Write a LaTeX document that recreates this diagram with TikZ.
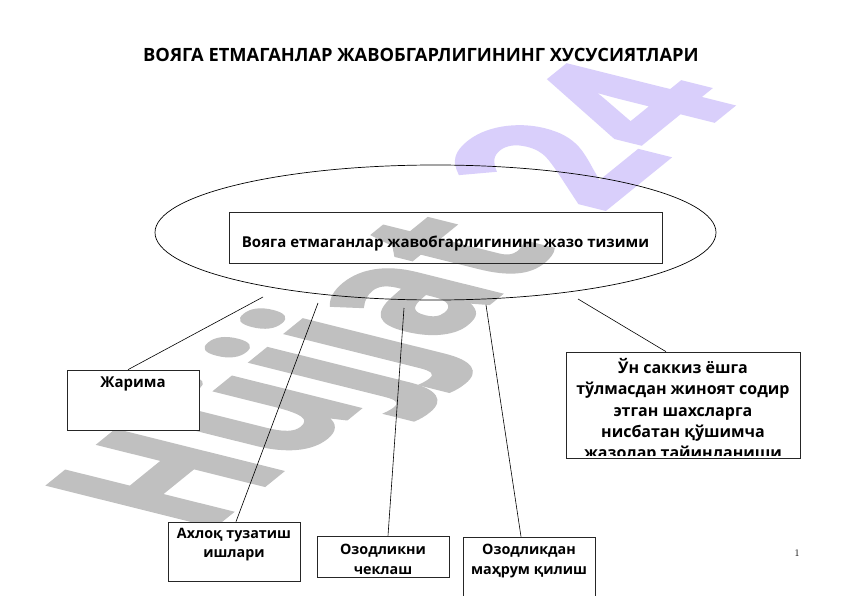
\documentclass[tikz,border=0pt]{standalone}
\usepackage{fontspec}
\setmainfont{Open Sans}
\newfontfamily\lmfont{Latin Modern Roman}
\newfontfamily\wmfont{Open Sans}[FakeBold=2]
\usetikzlibrary{shapes.geometric}
\definecolor{wmgrey}{RGB}{192,192,192}
\definecolor{wmpurple}{RGB}{217,207,251}
\begin{document}
\begin{tikzpicture}[x=1pt,y=-1pt,
  box/.style={draw=black!85, line width=0.7pt, inner sep=0pt, fill=white},
  lbl/.style={font=\fontsize{15}{21.5}\selectfont\bfseries, align=center, inner sep=0pt},
  lblr/.style={font=\fontsize{16}{21.3}\selectfont\bfseries, align=center, inner sep=0pt},
  lbls/.style={font=\fontsize{14.3}{19.5}\selectfont\bfseries, align=center, inner sep=0pt},
  wmtext/.style={transform shape, anchor=base west, inner sep=0pt, font=\wmfont\fontsize{100}{100}\selectfont\bfseries},
  conn/.style={draw=black, line width=0.6pt}]
\useasboundingbox[fill=white] (0,0) rectangle (842,596);

% watermark (behind everything)
\begin{scope}[cm={1.16,0.94,-2.309,0.576,(203pt,-535pt)}]
  \node[wmtext, text=wmgrey] (wm1) at (0pt,0pt) {Hüjjat};
  \node[wmtext, text=wmpurple, xscale=1.1] (wm2) at (341.8pt,0pt) {24};
\end{scope}

% title
\node[font=\fontsize{18.3}{22}\selectfont\bfseries, inner sep=0pt] (title) at (421,55) {ВОЯГА ЕТМАГАНЛАР ЖАВОБГАРЛИГИНИНГ ХУСУСИЯТЛАРИ};

% central ellipse and box
\node[ellipse, draw=black, line width=0.7pt, minimum width=561pt, minimum height=135pt, inner sep=0pt] (ell) at (435.5,232.5) {};
\node[draw=black!85, line width=0.7pt, inner sep=0pt, minimum width=433pt, minimum height=51pt] (sys) at (445.5,237.5) {};
\node[lbl] (systxt) at (445.5,244) {Вояга етмаганлар жавобгарлигининг жазо тизими};

% boxes
\node[box, minimum width=132pt, minimum height=60pt] (jar) at (133,400) {};
\node[lbl] (jartxt) at (133,384) {Жарима};

\node[box, minimum width=234pt, minimum height=106pt] (rb) at (683,405) {};
\begin{scope}
  \clip (566,352) rectangle (800,455.5);
  \node[lblr] (rbtxt) at (683,410.5) {Ўн саккиз ёшга\\тўлмасдан жиноят содир\\этган шахсларга\\нисбатан қўшимча\\жазолар тайинланиши};
\end{scope}

\node[box, minimum width=132pt, minimum height=59pt] (axl) at (234,551.5) {};
\node[lbls] (axltxt) at (234,544.5) {Ахлоқ тузатиш\\ишлари};

\node[box, minimum width=132pt, minimum height=41pt] (ozl) at (383,556.5) {};
\node[lbls] (ozltxt) at (383,559.5) {Озодликни\\чеклаш};

\node[box, minimum width=132pt, minimum height=66pt] (mah) at (529,570) {};
\node[lbls] (mahtxt) at (529,561) {Озодликдан\\маҳрум қилиш};

% connectors
\coordinate (c1) at (263,297);
\coordinate (c2) at (318,303);
\coordinate (c3) at (404,308);
\coordinate (c4) at (486,305);
\coordinate (c5) at (578,299);
\draw[conn] (c1) -- ([xshift=-5pt]jar.north);
\draw[conn] (c2) -- ([xshift=2pt]axl.north);
\draw[conn] (c3) -- ([xshift=5pt]ozl.north);
\draw[conn] (c4) -- ([xshift=-8pt]mah.north);
\draw[conn] (c5) -- ([xshift=-17pt]rb.north);

% page number
\node[font=\lmfont\fontsize{10}{12}\selectfont, inner sep=0pt] (pn) at (797,553) {1};
\end{tikzpicture}
\end{document}
